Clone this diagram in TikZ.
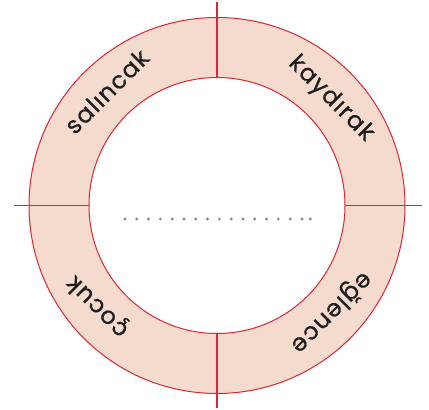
\documentclass[tikz,border=0pt]{standalone}
\usepackage{fontspec}
\setmainfont{Poppins}
\newfontfamily\wordfont[LetterSpace=5,FakeBold=0.6]{Poppins}
\definecolor{ringfill}{RGB}{245,218,206}
\definecolor{ringline}{RGB}{218,38,50}
\definecolor{dotgrey}{RGB}{135,135,140}
\begin{document}
\begin{tikzpicture}[x=1pt,y=1pt,
  ringedge/.style={draw=ringline,line width=1pt},
  crossbar/.style={fill=ringline,draw=none},
  word/.style={font=\wordfont\fontsize{24}{26}\selectfont,text=black!88,inner sep=0pt,anchor=base},
  dotmark/.style={circle,fill=dotgrey,inner sep=0pt,minimum size=3.2pt}]
\useasboundingbox (-217,-204.5) rectangle (212,205.5);
\coordinate (O) at (0,0);
% ring
\fill[ringfill,even odd rule] (O) circle (188) (O) circle (128);
\draw[ringedge] (O) circle (188);
\draw[ringedge] (O) circle (128);
% cross lines
\fill[crossbar] (-0.6,128) rectangle (0.6,203.3);
\fill[crossbar] (-0.6,-128) rectangle (0.6,-202.5);
\fill[crossbar] (-128,-0.6) rectangle (-202.5,0.6);
\fill[crossbar] (128,-0.6) rectangle (205.5,0.6);
% words (tops outward, reading clockwise)
\node[word,rotate=45]  (w1) at (134:150) {salıncak};
\node[word,rotate=-45] (w2) at (43:150) {kaydırak};
\node[word,rotate=225] (w3) at (-43:150) {eğlence};
\node[word,rotate=135] (w4) at (-140:150) {çocuk};
% dotted line
\foreach \i in {0,...,15} \node[dotmark] (d\i) at (-92+11.8*\i,-13.5) {};
\node[dotmark] (d16) at (93.3,-13.5) {};
\end{tikzpicture}
\end{document}
